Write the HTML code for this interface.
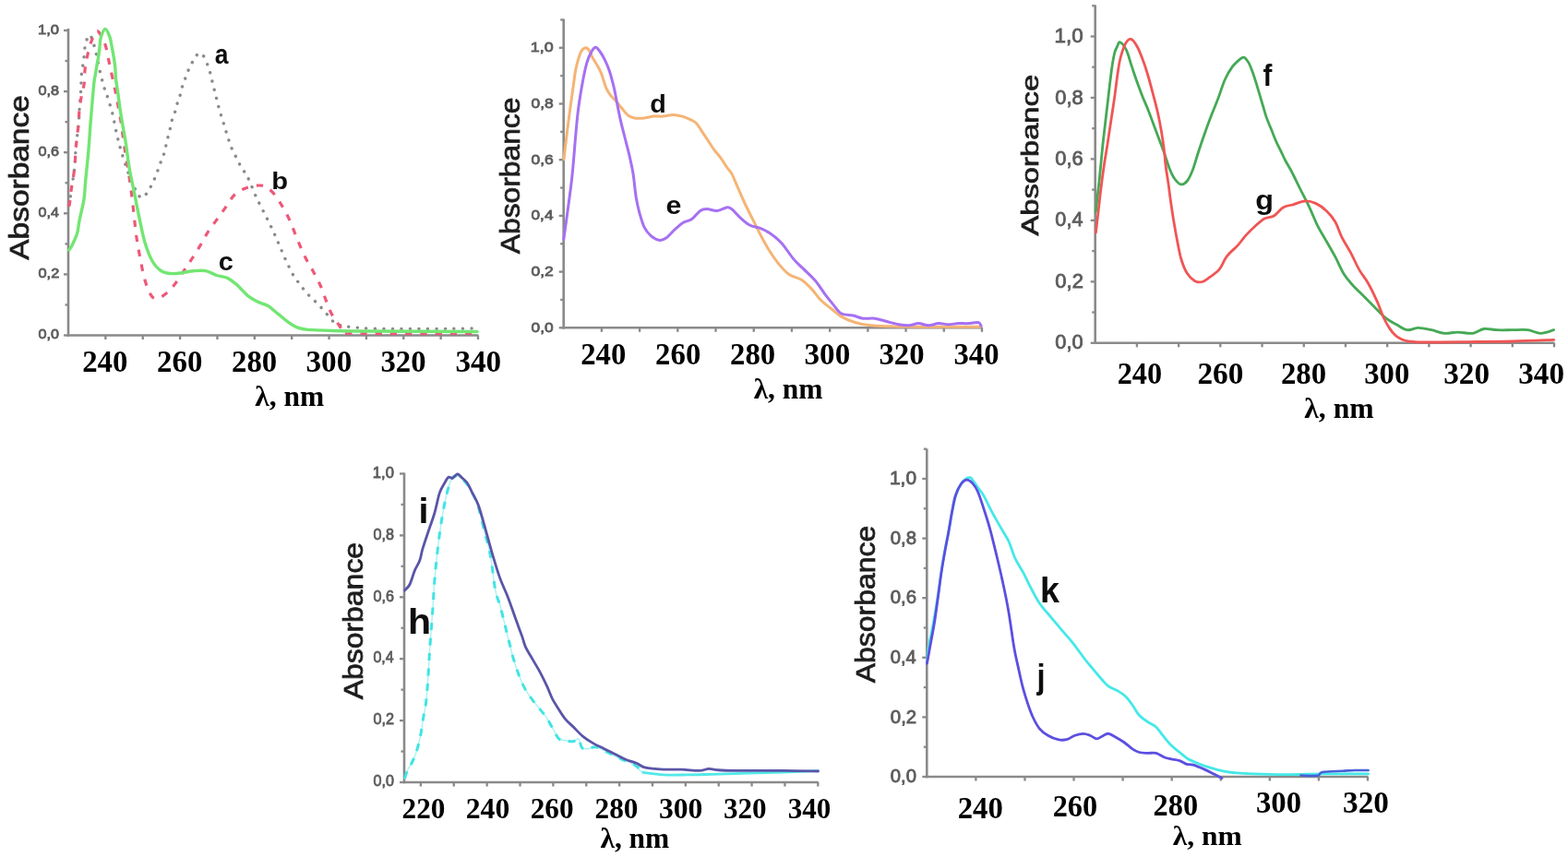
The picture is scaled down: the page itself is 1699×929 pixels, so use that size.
<!DOCTYPE html>
<html><head><meta charset="utf-8"><title>Absorbance spectra</title>
<style>
html,body{margin:0;padding:0;background:#fff;}
body{width:1699px;height:929px;overflow:hidden;}
svg{display:block;}
text{font-kerning:none;}
</style></head><body>
<svg width="1699" height="929" viewBox="0 0 1699 929">
<defs><filter id="soft" x="-2%" y="-2%" width="104%" height="104%"><feGaussianBlur stdDeviation="0.55"/></filter></defs>
<rect width="1699" height="929" fill="#fff"/>
<g filter="url(#soft)">
<g stroke="#8a8a8a" stroke-width="2.60" fill="none" stroke-linecap="butt">
<path d="M74.00 31.00 V364.80"/>
<path d="M72.70 363.50 H518.50"/>
<path d="M69.00 363.50 H74.00" stroke-width="2.34"/>
<path d="M70.50 330.45 H74.00" stroke-width="2.34"/>
<path d="M69.00 297.40 H74.00" stroke-width="2.34"/>
<path d="M70.50 264.35 H74.00" stroke-width="2.34"/>
<path d="M69.00 231.30 H74.00" stroke-width="2.34"/>
<path d="M70.50 198.25 H74.00" stroke-width="2.34"/>
<path d="M69.00 165.20 H74.00" stroke-width="2.34"/>
<path d="M70.50 132.15 H74.00" stroke-width="2.34"/>
<path d="M69.00 99.10 H74.00" stroke-width="2.34"/>
<path d="M70.50 66.05 H74.00" stroke-width="2.34"/>
<path d="M69.00 33.00 H74.00" stroke-width="2.34"/>
<path d="M114.36 363.50 V368.00" stroke-width="2.34"/>
<path d="M154.73 363.50 V368.00" stroke-width="2.34"/>
<path d="M195.09 363.50 V368.00" stroke-width="2.34"/>
<path d="M235.45 363.50 V368.00" stroke-width="2.34"/>
<path d="M275.82 363.50 V368.00" stroke-width="2.34"/>
<path d="M316.18 363.50 V368.00" stroke-width="2.34"/>
<path d="M356.55 363.50 V368.00" stroke-width="2.34"/>
<path d="M396.91 363.50 V368.00" stroke-width="2.34"/>
<path d="M437.27 363.50 V368.00" stroke-width="2.34"/>
<path d="M477.64 363.50 V368.00" stroke-width="2.34"/>
<path d="M518.00 363.50 V368.00" stroke-width="2.34"/>
</g>
<path d="M74.50 222.00 C74.68 221.57 75.13 222.27 75.60 219.40 C76.07 216.53 76.62 209.65 77.30 204.80 C77.98 199.95 79.03 195.13 79.70 190.30 C80.37 185.47 80.90 180.63 81.30 175.80 C81.70 170.97 81.70 166.13 82.10 161.30 C82.50 156.47 83.17 151.63 83.70 146.80 C84.23 141.97 84.90 137.15 85.30 132.30 C85.70 127.45 85.73 123.08 86.10 117.70 C86.47 112.32 87.08 106.83 87.50 100.00 C87.92 93.17 88.12 82.03 88.60 76.70 C89.08 71.37 89.82 72.32 90.40 68.00 C90.98 63.68 91.42 55.13 92.10 50.80 C92.78 46.47 93.50 44.05 94.50 42.00 C95.50 39.95 96.63 36.45 98.10 38.50 C99.57 40.55 101.50 47.37 103.30 54.30 C105.10 61.23 107.18 72.93 108.90 80.10 C110.62 87.27 112.38 93.28 113.60 97.30 C114.82 101.32 114.83 99.92 116.20 104.20 C117.57 108.48 120.08 116.12 121.80 123.00 C123.52 129.88 124.80 138.33 126.50 145.50 C128.20 152.67 129.75 158.58 132.00 166.00 C134.25 173.42 137.50 183.33 140.00 190.00 C142.50 196.67 144.75 201.92 147.00 206.00 C149.25 210.08 151.18 214.37 153.50 214.50 C155.82 214.63 158.98 209.45 160.90 206.80 C162.82 204.15 163.65 201.33 165.00 198.60 C166.35 195.87 167.82 193.30 169.00 190.40 C170.18 187.50 171.07 184.10 172.10 181.20 C173.13 178.30 174.17 175.73 175.20 173.00 C176.23 170.27 177.45 167.70 178.30 164.80 C179.15 161.90 179.63 158.50 180.30 155.60 C180.97 152.70 181.62 150.13 182.30 147.40 C182.98 144.67 183.72 142.10 184.40 139.20 C185.08 136.30 185.55 132.90 186.40 130.00 C187.25 127.10 188.63 124.53 189.50 121.80 C190.37 119.07 190.75 116.32 191.60 113.60 C192.45 110.88 193.75 108.38 194.60 105.50 C195.45 102.62 195.85 99.20 196.70 96.30 C197.55 93.40 198.68 91.00 199.70 88.10 C200.72 85.20 201.60 81.80 202.80 78.90 C204.00 76.00 205.53 73.43 206.90 70.70 C208.27 67.97 209.60 64.58 211.00 62.50 C212.40 60.42 213.92 58.82 215.30 58.20 C216.68 57.58 217.92 57.30 219.30 58.80 C220.68 60.30 222.33 64.35 223.60 67.20 C224.87 70.05 226.00 73.02 226.90 75.90 C227.80 78.78 228.28 81.63 229.00 84.50 C229.72 87.37 230.48 90.23 231.20 93.10 C231.92 95.97 232.58 98.83 233.30 101.70 C234.02 104.57 234.78 107.42 235.50 110.30 C236.22 113.18 236.78 116.12 237.60 119.00 C238.42 121.88 239.50 124.73 240.40 127.60 C241.30 130.47 242.13 133.33 243.00 136.20 C243.87 139.07 244.70 141.93 245.60 144.80 C246.50 147.67 247.40 150.52 248.40 153.40 C249.40 156.28 250.33 159.22 251.60 162.10 C252.87 164.98 254.55 167.83 256.00 170.70 C257.45 173.57 258.70 176.50 260.30 179.30 C261.90 182.10 263.90 184.63 265.60 187.50 C267.30 190.37 268.53 192.23 270.50 196.50 C272.47 200.77 274.82 207.47 277.40 213.10 C279.98 218.73 283.13 224.57 286.00 230.30 C288.87 236.03 291.90 241.75 294.60 247.50 C297.30 253.25 299.68 259.05 302.20 264.80 C304.72 270.55 307.02 276.27 309.70 282.00 C312.38 287.73 315.78 294.90 318.30 299.20 C320.82 303.50 322.65 304.92 324.80 307.80 C326.95 310.68 328.87 313.80 331.20 316.50 C333.53 319.20 336.28 321.50 338.80 324.00 C341.32 326.50 343.80 328.82 346.30 331.50 C348.80 334.18 351.28 337.22 353.80 340.10 C356.32 342.98 358.70 346.65 361.40 348.80 C364.10 350.95 366.77 352.05 370.00 353.00 C373.23 353.95 375.80 354.00 380.80 354.50 C385.80 355.00 391.80 355.67 400.00 356.00 C408.20 356.33 420.00 356.42 430.00 356.50 C440.00 356.58 450.00 356.53 460.00 356.50 C470.00 356.47 480.50 356.38 490.00 356.30 C499.50 356.22 512.50 356.05 517.00 356.00" fill="none" stroke="#8a8a8a" stroke-width="3.40" stroke-linejoin="round" stroke-linecap="round" stroke-dasharray="0.1 9.4" opacity="1.00"/>
<path d="M74.50 224.00 C74.68 223.23 75.13 222.60 75.60 219.40 C76.07 216.20 76.62 209.65 77.30 204.80 C77.98 199.95 79.03 195.13 79.70 190.30 C80.37 185.47 80.90 180.63 81.30 175.80 C81.70 170.97 81.70 166.13 82.10 161.30 C82.50 156.47 83.17 151.63 83.70 146.80 C84.23 141.97 84.90 137.15 85.30 132.30 C85.70 127.45 85.55 122.67 86.10 117.70 C86.65 112.73 87.75 107.03 88.60 102.50 C89.45 97.97 90.62 95.08 91.20 90.50 C91.78 85.92 91.52 80.03 92.10 75.00 C92.68 69.97 93.55 65.33 94.70 60.30 C95.85 55.27 97.22 49.25 99.00 44.80 C100.78 40.35 102.97 33.17 105.40 33.60 C107.83 34.03 111.65 42.67 113.60 47.40 C115.55 52.13 116.07 57.40 117.10 62.00 C118.13 66.60 118.75 70.17 119.80 75.00 C120.85 79.83 122.37 86.17 123.40 91.00 C124.43 95.83 125.12 99.37 126.00 104.00 C126.88 108.63 127.82 113.87 128.70 118.80 C129.58 123.73 130.25 126.63 131.30 133.60 C132.35 140.57 133.58 151.20 135.00 160.60 C136.42 170.00 138.37 180.27 139.80 190.00 C141.23 199.73 142.32 208.33 143.60 219.00 C144.88 229.67 146.20 244.30 147.50 254.00 C148.80 263.70 149.78 268.82 151.40 277.20 C153.02 285.58 154.93 296.87 157.20 304.30 C159.47 311.73 162.08 318.88 165.00 321.80 C167.92 324.72 171.15 323.43 174.70 321.80 C178.25 320.17 182.43 316.37 186.30 312.00 C190.17 307.63 194.35 300.77 197.90 295.60 C201.45 290.43 204.37 286.00 207.60 281.00 C210.83 276.00 214.40 270.43 217.30 265.60 C220.20 260.77 222.10 256.53 225.00 252.00 C227.90 247.47 231.47 242.92 234.70 238.40 C237.93 233.88 241.17 229.42 244.40 224.90 C247.63 220.38 250.22 214.88 254.10 211.30 C257.98 207.72 262.75 205.08 267.70 203.40 C272.65 201.72 279.32 200.48 283.80 201.20 C288.28 201.92 291.00 204.10 294.60 207.70 C298.20 211.30 302.17 217.60 305.40 222.80 C308.63 228.00 311.13 232.62 314.00 238.90 C316.87 245.18 319.73 253.68 322.60 260.50 C325.47 267.32 328.33 274.07 331.20 279.80 C334.07 285.53 337.10 289.87 339.80 294.90 C342.50 299.93 345.07 304.62 347.40 310.00 C349.73 315.38 351.83 322.18 353.80 327.20 C355.77 332.22 357.33 336.47 359.20 340.10 C361.07 343.73 363.20 346.35 365.00 349.00 C366.80 351.65 368.17 354.08 370.00 356.00 C371.83 357.92 372.67 359.58 376.00 360.50 C379.33 361.42 366.50 361.33 390.00 361.50 C413.50 361.67 495.83 361.50 517.00 361.50" fill="none" stroke="#ee5878" stroke-width="3.20" stroke-linejoin="round" stroke-linecap="butt" stroke-dasharray="7.2 9" opacity="1.00"/>
<path d="M74.80 271.00 C75.28 270.27 76.23 269.60 77.70 266.60 C79.17 263.60 82.20 257.65 83.60 253.00 C85.00 248.35 84.87 244.87 86.10 238.70 C87.33 232.53 89.92 222.98 91.00 216.00 C92.08 209.02 91.80 205.38 92.60 196.80 C93.40 188.22 94.87 175.30 95.80 164.50 C96.73 153.70 97.23 144.05 98.20 132.00 C99.17 119.95 100.75 100.70 101.60 92.20 C102.45 83.70 102.73 84.58 103.30 81.00 C103.87 77.42 104.43 74.00 105.00 70.70 C105.57 67.40 106.20 64.52 106.70 61.20 C107.20 57.88 107.57 54.25 108.00 50.80 C108.43 47.35 108.30 43.72 109.30 40.50 C110.30 37.28 112.42 31.65 114.00 31.50 C115.58 31.35 117.65 36.67 118.80 39.60 C119.95 42.53 120.18 45.50 120.90 49.10 C121.62 52.70 122.45 57.18 123.10 61.20 C123.75 65.22 124.40 69.15 124.80 73.20 C125.20 77.25 125.03 81.13 125.50 85.50 C125.97 89.87 126.82 93.85 127.60 99.40 C128.38 104.95 129.23 112.33 130.20 118.80 C131.17 125.27 132.33 131.83 133.40 138.20 C134.47 144.57 135.45 149.50 136.60 157.00 C137.75 164.50 138.80 174.47 140.30 183.20 C141.80 191.93 143.75 200.20 145.60 209.40 C147.45 218.60 149.47 229.37 151.40 238.40 C153.33 247.43 154.93 256.17 157.20 263.60 C159.47 271.03 162.08 277.98 165.00 283.00 C167.92 288.02 171.15 291.43 174.70 293.70 C178.25 295.97 182.43 296.28 186.30 296.60 C190.17 296.92 194.03 296.08 197.90 295.60 C201.77 295.12 205.32 294.02 209.50 293.70 C213.68 293.38 218.80 292.90 223.00 293.70 C227.20 294.50 230.80 297.22 234.70 298.50 C238.60 299.78 242.85 299.78 246.40 301.40 C249.95 303.02 253.70 306.40 256.00 308.20 C258.30 310.00 258.07 310.10 260.20 312.20 C262.33 314.30 265.58 318.30 268.80 320.80 C272.02 323.30 275.92 325.42 279.50 327.20 C283.08 328.98 286.70 329.35 290.30 331.50 C293.90 333.65 297.52 337.22 301.10 340.10 C304.68 342.98 308.22 346.28 311.80 348.80 C315.38 351.32 319.00 353.77 322.60 355.20 C326.20 356.63 327.17 356.85 333.40 357.40 C339.63 357.95 348.90 358.23 360.00 358.50 C371.10 358.77 373.83 358.83 400.00 359.00 C426.17 359.17 497.50 359.42 517.00 359.50" fill="none" stroke="#72e672" stroke-width="3.40" stroke-linejoin="round" stroke-linecap="round" opacity="1.00"/>
<g stroke="#8a8a8a" stroke-width="2.60" fill="none" stroke-linecap="butt">
<path d="M610.70 20.50 V356.60"/>
<path d="M609.40 355.30 H1064.50"/>
<path d="M605.70 355.30 H610.70" stroke-width="2.34"/>
<path d="M607.20 324.95 H610.70" stroke-width="2.34"/>
<path d="M605.70 294.60 H610.70" stroke-width="2.34"/>
<path d="M607.20 264.25 H610.70" stroke-width="2.34"/>
<path d="M605.70 233.90 H610.70" stroke-width="2.34"/>
<path d="M607.20 203.55 H610.70" stroke-width="2.34"/>
<path d="M605.70 173.20 H610.70" stroke-width="2.34"/>
<path d="M607.20 142.85 H610.70" stroke-width="2.34"/>
<path d="M605.70 112.50 H610.70" stroke-width="2.34"/>
<path d="M607.20 82.15 H610.70" stroke-width="2.34"/>
<path d="M605.70 51.80 H610.70" stroke-width="2.34"/>
<path d="M607.20 21.45 H610.70" stroke-width="2.34"/>
<path d="M651.91 355.30 V359.80" stroke-width="2.34"/>
<path d="M693.12 355.30 V359.80" stroke-width="2.34"/>
<path d="M734.33 355.30 V359.80" stroke-width="2.34"/>
<path d="M775.54 355.30 V359.80" stroke-width="2.34"/>
<path d="M816.75 355.30 V359.80" stroke-width="2.34"/>
<path d="M857.95 355.30 V359.80" stroke-width="2.34"/>
<path d="M899.16 355.30 V359.80" stroke-width="2.34"/>
<path d="M940.37 355.30 V359.80" stroke-width="2.34"/>
<path d="M981.58 355.30 V359.80" stroke-width="2.34"/>
<path d="M1022.79 355.30 V359.80" stroke-width="2.34"/>
<path d="M1064.00 355.30 V359.80" stroke-width="2.34"/>
</g>
<path d="M611.00 172.60 C611.72 166.58 613.57 149.98 615.30 136.50 C617.03 123.02 619.95 102.03 621.40 91.70 C622.85 81.37 622.72 80.25 624.00 74.50 C625.28 68.75 627.53 60.93 629.10 57.20 C630.67 53.47 631.97 52.67 633.40 52.10 C634.83 51.53 636.27 52.08 637.70 53.80 C639.13 55.52 640.42 59.53 642.00 62.40 C643.58 65.27 645.62 68.13 647.20 71.00 C648.78 73.87 649.92 75.58 651.50 79.60 C653.08 83.62 654.98 91.08 656.70 95.10 C658.42 99.12 660.08 101.40 661.80 103.70 C663.52 106.00 664.98 106.60 667.00 108.90 C669.02 111.20 671.60 114.77 673.90 117.50 C676.20 120.23 678.50 123.57 680.80 125.30 C683.10 127.03 684.83 127.47 687.70 127.90 C690.57 128.33 694.55 128.20 698.00 127.90 C701.45 127.60 704.95 126.40 708.40 126.10 C711.85 125.80 715.27 126.38 718.70 126.10 C722.13 125.82 725.55 124.40 729.00 124.40 C732.45 124.40 735.95 125.10 739.40 126.10 C742.85 127.10 747.12 129.10 749.70 130.40 C752.28 131.70 753.18 132.03 754.90 133.90 C756.62 135.77 758.00 138.58 760.00 141.60 C762.00 144.62 764.60 148.55 766.90 152.00 C769.20 155.45 771.50 159.15 773.80 162.30 C776.10 165.45 778.40 167.73 780.70 170.90 C783.00 174.07 785.58 178.43 787.60 181.30 C789.62 184.17 790.83 184.47 792.80 188.10 C794.77 191.73 796.87 197.37 799.40 203.10 C801.93 208.83 805.13 216.40 808.00 222.50 C810.87 228.60 813.73 233.97 816.60 239.70 C819.47 245.43 822.33 251.52 825.20 256.90 C828.07 262.28 830.57 266.97 833.80 272.00 C837.03 277.03 841.00 282.80 844.60 287.10 C848.20 291.40 851.45 295.12 855.40 297.80 C859.35 300.48 864.35 300.68 868.30 303.20 C872.25 305.72 875.52 309.13 879.10 312.90 C882.68 316.67 886.22 322.20 889.80 325.80 C893.38 329.40 897.00 331.62 900.60 334.50 C904.20 337.38 907.08 340.60 911.40 343.10 C915.72 345.60 921.12 347.88 926.50 349.50 C931.88 351.12 937.25 352.08 943.70 352.80 C950.15 353.52 956.58 353.57 965.20 353.80 C973.82 354.03 979.27 354.13 995.40 354.20 C1011.53 354.27 1050.90 354.20 1062.00 354.20" fill="none" stroke="#f5b475" stroke-width="3.00" stroke-linejoin="round" stroke-linecap="round" opacity="1.00"/>
<path d="M610.80 259.50 C611.35 255.53 612.93 244.23 614.10 235.70 C615.27 227.17 616.73 216.75 617.80 208.30 C618.87 199.85 619.18 198.70 620.50 185.00 C621.82 171.30 623.98 141.65 625.70 126.10 C627.42 110.55 629.08 101.45 630.80 91.70 C632.52 81.95 634.27 73.63 636.00 67.60 C637.73 61.57 639.62 58.23 641.20 55.50 C642.78 52.77 644.07 51.20 645.50 51.20 C646.93 51.20 648.22 53.35 649.80 55.50 C651.38 57.65 653.28 60.65 655.00 64.10 C656.72 67.55 658.38 71.03 660.10 76.20 C661.82 81.37 663.87 89.07 665.30 95.10 C666.73 101.13 667.55 106.65 668.70 112.40 C669.85 118.15 671.05 124.43 672.20 129.60 C673.35 134.77 674.45 138.82 675.60 143.40 C676.75 147.98 677.95 152.52 679.10 157.10 C680.25 161.68 681.35 165.73 682.50 170.90 C683.65 176.07 684.88 180.95 686.00 188.10 C687.12 195.25 688.07 206.77 689.20 213.80 C690.33 220.83 691.28 224.82 692.80 230.30 C694.32 235.78 696.17 242.43 698.30 246.70 C700.43 250.97 702.85 253.62 705.60 255.90 C708.35 258.18 712.05 260.10 714.80 260.40 C717.55 260.70 719.35 259.67 722.10 257.70 C724.85 255.73 728.25 251.35 731.30 248.60 C734.35 245.85 737.35 243.03 740.40 241.20 C743.45 239.37 746.55 239.73 749.60 237.60 C752.65 235.47 755.97 230.23 758.70 228.40 C761.43 226.57 762.95 226.60 766.00 226.60 C769.05 226.60 773.33 228.70 777.00 228.40 C780.67 228.10 785.33 225.07 788.00 224.80 C790.67 224.53 790.75 225.03 793.00 226.80 C795.25 228.57 798.28 232.53 801.50 235.40 C804.72 238.27 808.70 242.03 812.30 244.00 C815.90 245.97 819.52 245.77 823.10 247.20 C826.68 248.63 829.85 249.90 833.80 252.60 C837.75 255.30 842.48 258.73 846.80 263.40 C851.12 268.07 855.75 275.93 859.70 280.60 C863.65 285.27 866.55 287.45 870.50 291.40 C874.45 295.35 879.45 299.63 883.40 304.30 C887.35 308.97 890.97 315.10 894.20 319.40 C897.43 323.70 899.93 326.70 902.80 330.10 C905.67 333.50 907.82 337.82 911.40 339.80 C914.98 341.78 920.35 341.10 924.30 342.00 C928.25 342.90 931.15 344.67 935.10 345.20 C939.05 345.73 943.70 344.65 948.00 345.20 C952.30 345.75 956.60 347.42 960.90 348.50 C965.20 349.58 969.85 350.98 973.80 351.70 C977.75 352.42 981.00 352.98 984.60 352.80 C988.20 352.62 991.82 350.60 995.40 350.60 C998.98 350.60 1002.52 352.80 1006.10 352.80 C1009.68 352.80 1013.30 350.78 1016.90 350.60 C1020.50 350.42 1024.10 351.70 1027.70 351.70 C1031.30 351.70 1034.92 350.78 1038.50 350.60 C1042.08 350.42 1045.62 350.78 1049.20 350.60 C1052.78 350.42 1057.70 349.10 1060.00 349.50 C1062.30 349.90 1062.50 352.42 1063.00 353.00" fill="none" stroke="#a66ff2" stroke-width="3.00" stroke-linejoin="round" stroke-linecap="round" opacity="1.00"/>
<g stroke="#8a8a8a" stroke-width="2.60" fill="none" stroke-linecap="butt">
<path d="M1186.70 5.50 V373.10"/>
<path d="M1185.40 371.80 H1684.50"/>
<path d="M1181.70 371.80 H1186.70" stroke-width="2.34"/>
<path d="M1183.20 338.57 H1186.70" stroke-width="2.34"/>
<path d="M1181.70 305.34 H1186.70" stroke-width="2.34"/>
<path d="M1183.20 272.11 H1186.70" stroke-width="2.34"/>
<path d="M1181.70 238.88 H1186.70" stroke-width="2.34"/>
<path d="M1183.20 205.65 H1186.70" stroke-width="2.34"/>
<path d="M1181.70 172.42 H1186.70" stroke-width="2.34"/>
<path d="M1183.20 139.19 H1186.70" stroke-width="2.34"/>
<path d="M1181.70 105.96 H1186.70" stroke-width="2.34"/>
<path d="M1183.20 72.73 H1186.70" stroke-width="2.34"/>
<path d="M1181.70 39.50 H1186.70" stroke-width="2.34"/>
<path d="M1183.20 6.27 H1186.70" stroke-width="2.34"/>
<path d="M1231.91 371.80 V376.30" stroke-width="2.34"/>
<path d="M1277.12 371.80 V376.30" stroke-width="2.34"/>
<path d="M1322.33 371.80 V376.30" stroke-width="2.34"/>
<path d="M1367.54 371.80 V376.30" stroke-width="2.34"/>
<path d="M1412.75 371.80 V376.30" stroke-width="2.34"/>
<path d="M1457.95 371.80 V376.30" stroke-width="2.34"/>
<path d="M1503.16 371.80 V376.30" stroke-width="2.34"/>
<path d="M1548.37 371.80 V376.30" stroke-width="2.34"/>
<path d="M1593.58 371.80 V376.30" stroke-width="2.34"/>
<path d="M1638.79 371.80 V376.30" stroke-width="2.34"/>
<path d="M1684.00 371.80 V376.30" stroke-width="2.34"/>
</g>
<path d="M1187.30 230.00 C1187.67 226.67 1188.80 216.33 1189.50 210.00 C1190.20 203.67 1190.62 200.67 1191.50 192.00 C1192.38 183.33 1193.62 169.17 1194.80 158.00 C1195.98 146.83 1197.37 135.67 1198.60 125.00 C1199.83 114.33 1201.13 102.83 1202.20 94.00 C1203.27 85.17 1204.07 78.17 1205.00 72.00 C1205.93 65.83 1206.88 60.58 1207.80 57.00 C1208.72 53.42 1209.52 52.38 1210.50 50.50 C1211.48 48.62 1212.03 45.05 1213.70 45.70 C1215.37 46.35 1218.40 50.03 1220.50 54.40 C1222.60 58.77 1224.35 66.08 1226.30 71.90 C1228.25 77.72 1230.25 83.82 1232.20 89.30 C1234.15 94.78 1236.07 99.95 1238.00 104.80 C1239.93 109.65 1241.87 113.55 1243.80 118.40 C1245.73 123.25 1247.67 128.73 1249.60 133.90 C1251.53 139.07 1253.47 144.23 1255.40 149.40 C1257.33 154.57 1259.25 159.40 1261.20 164.90 C1263.15 170.40 1265.15 177.55 1267.10 182.40 C1269.05 187.25 1270.80 191.08 1272.90 194.00 C1275.00 196.92 1277.43 199.57 1279.70 199.90 C1281.97 200.23 1284.40 198.60 1286.50 196.00 C1288.60 193.40 1290.35 189.35 1292.30 184.30 C1294.25 179.25 1296.23 171.72 1298.20 165.70 C1300.17 159.68 1301.83 154.67 1304.10 148.20 C1306.37 141.73 1309.22 133.68 1311.80 126.90 C1314.38 120.12 1317.02 114.28 1319.60 107.50 C1322.18 100.72 1324.72 92.02 1327.30 86.20 C1329.88 80.38 1332.52 76.15 1335.10 72.60 C1337.68 69.05 1340.68 66.65 1342.80 64.90 C1344.92 63.15 1346.12 61.60 1347.80 62.10 C1349.48 62.60 1351.40 65.42 1352.90 67.90 C1354.40 70.38 1355.50 73.55 1356.80 77.00 C1358.10 80.45 1359.40 84.50 1360.70 88.60 C1362.00 92.70 1363.32 97.28 1364.60 101.60 C1365.88 105.92 1367.12 110.20 1368.40 114.50 C1369.68 118.80 1370.78 123.10 1372.30 127.40 C1373.82 131.70 1375.77 135.98 1377.50 140.30 C1379.23 144.62 1380.98 149.42 1382.70 153.30 C1384.42 157.18 1386.08 160.07 1387.80 163.60 C1389.52 167.13 1391.05 170.77 1393.00 174.50 C1394.95 178.23 1396.85 180.92 1399.50 186.00 C1402.15 191.08 1405.75 198.68 1408.90 205.00 C1412.05 211.32 1415.23 217.20 1418.40 223.90 C1421.57 230.60 1424.73 238.88 1427.90 245.20 C1431.07 251.52 1434.25 256.27 1437.40 261.80 C1440.55 267.33 1443.65 272.48 1446.80 278.40 C1449.95 284.32 1453.13 292.17 1456.30 297.30 C1459.47 302.43 1462.25 305.25 1465.80 309.20 C1469.35 313.15 1473.65 317.05 1477.60 321.00 C1481.55 324.95 1485.55 328.95 1489.50 332.90 C1493.45 336.85 1497.37 341.55 1501.30 344.70 C1505.23 347.85 1509.15 349.63 1513.10 351.80 C1517.05 353.97 1521.05 357.10 1525.00 357.70 C1528.95 358.30 1532.47 355.40 1536.80 355.40 C1541.13 355.40 1546.27 356.72 1551.00 357.70 C1555.73 358.68 1560.47 360.90 1565.20 361.30 C1569.93 361.70 1574.27 360.10 1579.40 360.10 C1584.53 360.10 1591.27 361.90 1596.00 361.30 C1600.73 360.70 1603.45 357.10 1607.80 356.50 C1612.15 355.90 1616.97 357.50 1622.10 357.70 C1627.23 357.90 1633.08 357.70 1638.60 357.70 C1644.12 357.70 1650.07 357.10 1655.20 357.70 C1660.33 358.30 1664.67 361.30 1669.40 361.30 C1674.13 361.30 1681.23 358.30 1683.60 357.70" fill="none" stroke="#45a955" stroke-width="2.80" stroke-linejoin="round" stroke-linecap="round" opacity="1.00"/>
<path d="M1187.40 252.00 C1187.83 248.33 1189.13 237.50 1190.00 230.00 C1190.87 222.50 1191.57 215.33 1192.60 207.00 C1193.63 198.67 1195.00 188.23 1196.20 180.00 C1197.40 171.77 1198.55 165.65 1199.80 157.60 C1201.05 149.55 1202.40 140.32 1203.70 131.70 C1205.00 123.08 1206.38 114.52 1207.60 105.90 C1208.82 97.28 1209.93 87.15 1211.00 80.00 C1212.07 72.85 1212.57 68.48 1214.00 63.00 C1215.43 57.52 1217.68 50.53 1219.60 47.10 C1221.52 43.67 1223.40 41.83 1225.50 42.40 C1227.60 42.97 1230.12 46.88 1232.20 50.50 C1234.28 54.12 1236.07 58.93 1238.00 64.10 C1239.93 69.27 1241.87 75.03 1243.80 81.50 C1245.73 87.97 1247.82 96.10 1249.60 102.90 C1251.38 109.70 1253.05 115.83 1254.50 122.30 C1255.95 128.77 1257.18 135.23 1258.30 141.70 C1259.42 148.17 1260.38 154.63 1261.20 161.10 C1262.02 167.57 1262.38 174.03 1263.20 180.50 C1264.02 186.97 1265.27 193.98 1266.10 199.90 C1266.93 205.82 1267.22 209.13 1268.20 216.00 C1269.18 222.87 1270.68 233.17 1272.00 241.10 C1273.32 249.03 1274.73 256.78 1276.10 263.60 C1277.47 270.42 1278.50 276.55 1280.20 282.00 C1281.90 287.45 1283.92 292.55 1286.30 296.30 C1288.68 300.05 1291.77 302.97 1294.50 304.50 C1297.23 306.03 1299.97 306.18 1302.70 305.50 C1305.43 304.82 1307.83 302.62 1310.90 300.40 C1313.97 298.18 1318.03 295.95 1321.10 292.20 C1324.17 288.45 1325.90 282.33 1329.30 277.90 C1332.70 273.47 1338.10 269.35 1341.50 265.60 C1344.90 261.85 1346.63 258.80 1349.70 255.40 C1352.77 252.00 1356.50 248.27 1359.90 245.20 C1363.30 242.13 1366.68 238.87 1370.10 237.00 C1373.52 235.13 1376.98 236.03 1380.40 234.00 C1383.82 231.97 1387.03 226.87 1390.60 224.80 C1394.17 222.73 1397.95 222.73 1401.80 221.60 C1405.65 220.47 1409.75 218.20 1413.70 218.00 C1417.65 217.80 1421.55 218.62 1425.50 220.40 C1429.45 222.18 1433.85 225.35 1437.40 228.70 C1440.95 232.05 1444.05 235.77 1446.80 240.50 C1449.55 245.23 1451.13 251.57 1453.90 257.10 C1456.67 262.63 1460.23 267.78 1463.40 273.70 C1466.57 279.62 1469.75 287.08 1472.90 292.60 C1476.05 298.12 1479.15 301.27 1482.30 306.80 C1485.45 312.33 1488.97 319.52 1491.80 325.80 C1494.63 332.08 1496.97 339.45 1499.30 344.50 C1501.63 349.55 1503.65 352.88 1505.80 356.10 C1507.95 359.32 1510.07 361.87 1512.20 363.80 C1514.33 365.73 1516.38 366.70 1518.60 367.70 C1520.82 368.70 1522.47 369.28 1525.50 369.80 C1528.53 370.32 1531.05 370.60 1536.80 370.80 C1542.55 371.00 1549.47 371.05 1560.00 371.00 C1570.53 370.95 1586.67 370.67 1600.00 370.50 C1613.33 370.33 1626.07 370.35 1640.00 370.00 C1653.93 369.65 1676.33 368.67 1683.60 368.40" fill="none" stroke="#f05555" stroke-width="2.80" stroke-linejoin="round" stroke-linecap="round" opacity="1.00"/>
<g stroke="#8a8a8a" stroke-width="2.60" fill="none" stroke-linecap="butt">
<path d="M438.00 512.50 V849.30"/>
<path d="M436.70 848.00 H886.80"/>
<path d="M433.00 848.00 H438.00" stroke-width="2.34"/>
<path d="M434.50 814.55 H438.00" stroke-width="2.34"/>
<path d="M433.00 781.10 H438.00" stroke-width="2.34"/>
<path d="M434.50 747.65 H438.00" stroke-width="2.34"/>
<path d="M433.00 714.20 H438.00" stroke-width="2.34"/>
<path d="M434.50 680.75 H438.00" stroke-width="2.34"/>
<path d="M433.00 647.30 H438.00" stroke-width="2.34"/>
<path d="M434.50 613.85 H438.00" stroke-width="2.34"/>
<path d="M433.00 580.40 H438.00" stroke-width="2.34"/>
<path d="M434.50 546.95 H438.00" stroke-width="2.34"/>
<path d="M433.00 513.50 H438.00" stroke-width="2.34"/>
<path d="M455.93 848.00 V852.50" stroke-width="2.34"/>
<path d="M491.80 848.00 V852.50" stroke-width="2.34"/>
<path d="M527.66 848.00 V852.50" stroke-width="2.34"/>
<path d="M563.52 848.00 V852.50" stroke-width="2.34"/>
<path d="M599.39 848.00 V852.50" stroke-width="2.34"/>
<path d="M635.25 848.00 V852.50" stroke-width="2.34"/>
<path d="M671.12 848.00 V852.50" stroke-width="2.34"/>
<path d="M706.98 848.00 V852.50" stroke-width="2.34"/>
<path d="M742.84 848.00 V852.50" stroke-width="2.34"/>
<path d="M778.71 848.00 V852.50" stroke-width="2.34"/>
<path d="M814.57 848.00 V852.50" stroke-width="2.34"/>
<path d="M850.44 848.00 V852.50" stroke-width="2.34"/>
<path d="M886.30 848.00 V852.50" stroke-width="2.34"/>
</g>
<path d="M438.50 844.00 C439.00 842.50 440.30 837.70 441.50 835.00 C442.70 832.30 444.20 830.78 445.70 827.80 C447.20 824.82 448.88 821.95 450.50 817.10 C452.12 812.25 454.02 805.32 455.40 798.70 C456.78 792.08 457.83 783.05 458.80 777.40 C459.77 771.75 460.42 771.03 461.20 764.80 C461.98 758.57 462.73 750.47 463.50 740.00 C464.27 729.53 464.92 715.08 465.80 702.00 C466.68 688.92 467.95 673.63 468.80 661.50 C469.65 649.37 470.02 639.97 470.90 629.20 C471.78 618.43 472.85 607.67 474.10 596.90 C475.35 586.13 476.78 574.65 478.40 564.60 C480.02 554.55 482.00 544.13 483.80 536.60 C485.60 529.07 487.40 522.82 489.20 519.40 C491.00 515.98 492.27 515.75 494.60 516.10 C496.93 516.45 500.33 518.45 503.20 521.50 C506.07 524.55 509.28 529.73 511.80 534.40 C514.32 539.07 516.15 542.68 518.30 549.50 C520.45 556.32 522.55 566.68 524.70 575.30 C526.85 583.92 529.18 590.42 531.20 601.20 C533.22 611.98 535.07 630.95 536.80 640.00 C538.53 649.05 539.98 649.68 541.60 655.50 C543.22 661.32 544.88 668.43 546.50 674.90 C548.12 681.37 549.68 687.85 551.30 694.30 C552.92 700.75 554.42 707.47 556.20 713.60 C557.98 719.73 559.90 725.60 562.00 731.10 C564.10 736.60 566.38 742.08 568.80 746.60 C571.22 751.12 573.92 754.65 576.50 758.20 C579.08 761.75 581.72 764.67 584.30 767.90 C586.88 771.13 589.42 773.72 592.00 777.60 C594.58 781.48 597.53 787.32 599.80 791.20 C602.07 795.08 603.35 798.97 605.60 800.90 C607.85 802.83 610.72 802.32 613.30 802.80 C615.88 803.28 618.83 804.12 621.10 803.80 C623.37 803.48 625.33 799.78 626.90 800.90 C628.47 802.02 628.78 808.70 630.50 810.50 C632.22 812.30 634.78 811.82 637.20 811.70 C639.62 811.58 642.08 809.48 645.00 809.80 C647.92 810.12 651.80 812.32 654.70 813.60 C657.60 814.88 659.18 815.88 662.40 817.50 C665.62 819.12 669.80 821.37 674.00 823.30 C678.20 825.23 683.80 826.77 687.60 829.10 C691.40 831.43 691.60 835.50 696.80 837.30 C702.00 839.10 710.82 839.47 718.80 839.90 C726.78 840.33 736.07 840.00 744.70 839.90 C753.33 839.80 759.80 839.58 770.60 839.30 C781.40 839.02 796.55 838.55 809.50 838.20 C822.45 837.85 835.47 837.63 848.30 837.20 C861.13 836.77 880.13 835.87 886.50 835.60" fill="none" stroke="#a8f2f2" stroke-width="1.40" stroke-linejoin="round" stroke-linecap="round" opacity="1.00"/>
<path d="M438.50 844.00 C439.00 842.50 440.30 837.70 441.50 835.00 C442.70 832.30 444.20 830.78 445.70 827.80 C447.20 824.82 448.88 821.95 450.50 817.10 C452.12 812.25 454.02 805.32 455.40 798.70 C456.78 792.08 457.83 783.05 458.80 777.40 C459.77 771.75 460.42 771.03 461.20 764.80 C461.98 758.57 462.73 750.47 463.50 740.00 C464.27 729.53 464.92 715.08 465.80 702.00 C466.68 688.92 467.95 673.63 468.80 661.50 C469.65 649.37 470.02 639.97 470.90 629.20 C471.78 618.43 472.85 607.67 474.10 596.90 C475.35 586.13 476.78 574.65 478.40 564.60 C480.02 554.55 482.00 544.13 483.80 536.60 C485.60 529.07 487.40 522.82 489.20 519.40 C491.00 515.98 492.27 515.75 494.60 516.10 C496.93 516.45 500.33 518.45 503.20 521.50 C506.07 524.55 509.28 529.73 511.80 534.40 C514.32 539.07 516.15 542.68 518.30 549.50 C520.45 556.32 522.55 566.68 524.70 575.30 C526.85 583.92 529.18 590.42 531.20 601.20 C533.22 611.98 535.07 630.95 536.80 640.00 C538.53 649.05 539.98 649.68 541.60 655.50 C543.22 661.32 544.88 668.43 546.50 674.90 C548.12 681.37 549.68 687.85 551.30 694.30 C552.92 700.75 554.42 707.47 556.20 713.60 C557.98 719.73 559.90 725.60 562.00 731.10 C564.10 736.60 566.38 742.08 568.80 746.60 C571.22 751.12 573.92 754.65 576.50 758.20 C579.08 761.75 581.72 764.67 584.30 767.90 C586.88 771.13 589.42 773.72 592.00 777.60 C594.58 781.48 597.53 787.32 599.80 791.20 C602.07 795.08 603.35 798.97 605.60 800.90 C607.85 802.83 610.72 802.32 613.30 802.80 C615.88 803.28 618.83 804.12 621.10 803.80 C623.37 803.48 625.33 799.78 626.90 800.90 C628.47 802.02 628.78 808.70 630.50 810.50 C632.22 812.30 634.78 811.82 637.20 811.70 C639.62 811.58 642.08 809.48 645.00 809.80 C647.92 810.12 651.80 812.32 654.70 813.60 C657.60 814.88 659.18 815.88 662.40 817.50 C665.62 819.12 669.80 821.37 674.00 823.30 C678.20 825.23 683.80 826.77 687.60 829.10 C691.40 831.43 695.27 835.93 696.80 837.30" fill="none" stroke="#40e4e4" stroke-width="3.00" stroke-linejoin="round" stroke-linecap="butt" stroke-dasharray="8 8.5" opacity="1.00"/>
<path d="M696.80 837.30 C700.47 837.73 710.82 839.47 718.80 839.90 C726.78 840.33 736.07 840.00 744.70 839.90 C753.33 839.80 759.80 839.58 770.60 839.30 C781.40 839.02 796.55 838.55 809.50 838.20 C822.45 837.85 835.47 837.63 848.30 837.20 C861.13 836.77 880.13 835.87 886.50 835.60" fill="none" stroke="#52e8e8" stroke-width="2.80" stroke-linejoin="round" stroke-linecap="round" opacity="1.00"/>
<path d="M438.60 639.90 C439.50 638.83 442.20 637.08 444.00 633.50 C445.80 629.92 447.60 622.72 449.40 618.40 C451.20 614.08 453.37 611.55 454.80 607.60 C456.23 603.65 456.40 600.08 458.00 594.70 C459.60 589.32 462.25 581.75 464.40 575.30 C466.55 568.85 468.92 562.82 470.90 556.00 C472.88 549.18 474.50 539.78 476.30 534.40 C478.10 529.02 480.08 526.57 481.70 523.70 C483.32 520.83 484.57 518.10 486.00 517.20 C487.43 516.30 488.68 518.83 490.30 518.30 C491.92 517.77 493.92 514.00 495.70 514.00 C497.48 514.00 499.22 516.68 501.00 518.30 C502.78 519.92 504.60 521.02 506.40 523.70 C508.20 526.38 509.82 530.45 511.80 534.40 C513.78 538.35 516.15 541.65 518.30 547.40 C520.45 553.15 522.25 560.33 524.70 568.90 C527.15 577.47 530.18 589.22 533.00 598.80 C535.82 608.38 538.73 618.37 541.60 626.40 C544.47 634.43 547.33 639.55 550.20 647.00 C553.07 654.45 556.22 663.95 558.80 671.10 C561.38 678.25 563.92 684.87 565.70 689.90 C567.48 694.93 567.58 697.13 569.50 701.30 C571.42 705.47 574.62 710.38 577.20 714.90 C579.78 719.42 582.42 723.57 585.00 728.40 C587.58 733.23 590.45 739.05 592.70 743.90 C594.95 748.75 596.57 753.62 598.50 757.50 C600.43 761.38 602.05 763.65 604.30 767.20 C606.55 770.75 609.10 775.25 612.00 778.80 C614.90 782.35 618.47 785.28 621.70 788.50 C624.93 791.72 627.85 795.20 631.40 798.10 C634.95 801.00 639.12 803.63 643.00 805.90 C646.88 808.17 650.82 809.77 654.70 811.70 C658.58 813.63 662.43 815.57 666.30 817.50 C670.17 819.43 674.03 821.68 677.90 823.30 C681.77 824.92 685.92 825.72 689.50 827.20 C693.08 828.68 694.52 831.05 699.40 832.20 C704.28 833.35 712.32 833.78 718.80 834.10 C725.28 834.42 731.82 833.88 738.30 834.10 C744.78 834.32 752.75 835.52 757.70 835.40 C762.65 835.28 764.77 833.52 768.00 833.40 C771.23 833.28 772.35 834.37 777.10 834.70 C781.85 835.03 784.63 835.28 796.50 835.40 C808.37 835.52 833.30 835.30 848.30 835.40 C863.30 835.50 880.13 835.90 886.50 836.00" fill="none" stroke="#5a54a8" stroke-width="2.80" stroke-linejoin="round" stroke-linecap="round" opacity="1.00"/>
<g stroke="#8a8a8a" stroke-width="2.60" fill="none" stroke-linecap="butt">
<path d="M1004.30 486.50 V843.30"/>
<path d="M1003.00 842.00 H1482.50"/>
<path d="M999.30 842.00 H1004.30" stroke-width="2.34"/>
<path d="M1000.80 809.70 H1004.30" stroke-width="2.34"/>
<path d="M999.30 777.40 H1004.30" stroke-width="2.34"/>
<path d="M1000.80 745.10 H1004.30" stroke-width="2.34"/>
<path d="M999.30 712.80 H1004.30" stroke-width="2.34"/>
<path d="M1000.80 680.50 H1004.30" stroke-width="2.34"/>
<path d="M999.30 648.20 H1004.30" stroke-width="2.34"/>
<path d="M1000.80 615.90 H1004.30" stroke-width="2.34"/>
<path d="M999.30 583.60 H1004.30" stroke-width="2.34"/>
<path d="M1000.80 551.30 H1004.30" stroke-width="2.34"/>
<path d="M999.30 519.00 H1004.30" stroke-width="2.34"/>
<path d="M1000.80 486.70 H1004.30" stroke-width="2.34"/>
<path d="M1057.38 842.00 V846.50" stroke-width="2.34"/>
<path d="M1110.46 842.00 V846.50" stroke-width="2.34"/>
<path d="M1163.53 842.00 V846.50" stroke-width="2.34"/>
<path d="M1216.61 842.00 V846.50" stroke-width="2.34"/>
<path d="M1269.69 842.00 V846.50" stroke-width="2.34"/>
<path d="M1322.77 842.00 V846.50" stroke-width="2.34"/>
<path d="M1375.84 842.00 V846.50" stroke-width="2.34"/>
<path d="M1428.92 842.00 V846.50" stroke-width="2.34"/>
<path d="M1482.00 842.00 V846.50" stroke-width="2.34"/>
</g>
<path d="M1004.50 716.00 C1004.83 713.33 1005.67 705.17 1006.50 700.00 C1007.33 694.83 1008.48 690.33 1009.50 685.00 C1010.52 679.67 1011.45 674.67 1012.60 668.00 C1013.75 661.33 1015.10 653.50 1016.40 645.00 C1017.70 636.50 1019.10 625.33 1020.40 617.00 C1021.70 608.67 1022.93 602.00 1024.20 595.00 C1025.47 588.00 1026.70 582.00 1028.00 575.00 C1029.30 568.00 1030.67 559.50 1032.00 553.00 C1033.33 546.50 1034.33 540.92 1036.00 536.00 C1037.67 531.08 1040.13 526.40 1042.00 523.50 C1043.87 520.60 1045.58 519.55 1047.20 518.60 C1048.82 517.65 1050.48 517.35 1051.70 517.80 C1052.92 518.25 1053.12 519.43 1054.50 521.30 C1055.88 523.17 1058.12 526.37 1060.00 529.00 C1061.88 531.63 1063.32 532.73 1065.80 537.10 C1068.28 541.47 1071.88 549.53 1074.90 555.20 C1077.92 560.87 1080.88 565.82 1083.90 571.10 C1086.92 576.38 1090.35 581.25 1093.00 586.90 C1095.65 592.55 1097.17 599.33 1099.80 605.00 C1102.43 610.67 1105.78 615.23 1108.80 620.90 C1111.82 626.57 1114.88 633.35 1117.90 639.00 C1120.92 644.65 1123.52 649.90 1126.90 654.80 C1130.28 659.70 1134.43 663.88 1138.20 668.40 C1141.97 672.92 1145.35 677.00 1149.50 681.90 C1153.65 686.80 1158.65 692.20 1163.10 697.80 C1167.55 703.40 1172.57 710.83 1176.20 715.50 C1179.83 720.17 1181.93 722.27 1184.90 725.80 C1187.87 729.33 1191.25 733.65 1194.00 736.70 C1196.75 739.75 1198.35 741.95 1201.40 744.10 C1204.45 746.25 1209.25 747.78 1212.30 749.60 C1215.35 751.42 1217.25 752.57 1219.70 755.00 C1222.15 757.43 1224.57 760.83 1227.00 764.20 C1229.43 767.57 1231.55 772.15 1234.30 775.20 C1237.05 778.25 1240.45 780.37 1243.50 782.50 C1246.55 784.63 1249.87 785.55 1252.60 788.00 C1255.33 790.45 1257.15 793.85 1259.90 797.20 C1262.65 800.55 1266.05 805.05 1269.10 808.10 C1272.15 811.15 1275.15 813.05 1278.20 815.50 C1281.25 817.95 1283.77 820.67 1287.40 822.80 C1291.03 824.93 1296.92 827.02 1300.00 828.30 C1303.08 829.58 1302.77 829.48 1305.90 830.50 C1309.03 831.52 1314.48 833.32 1318.80 834.40 C1323.12 835.48 1325.32 836.25 1331.80 837.00 C1338.28 837.75 1346.92 838.47 1357.70 838.90 C1368.48 839.33 1383.55 839.60 1396.50 839.60 C1409.45 839.60 1421.05 839.02 1435.40 838.90 C1449.75 838.78 1474.73 838.90 1482.60 838.90" fill="none" stroke="#45e8e8" stroke-width="2.80" stroke-linejoin="round" stroke-linecap="round" opacity="1.00"/>
<path d="M1004.50 719.00 C1005.12 715.57 1006.90 705.55 1008.20 698.40 C1009.50 691.25 1010.97 684.37 1012.30 676.10 C1013.63 667.83 1014.88 658.30 1016.20 648.80 C1017.52 639.30 1018.90 627.78 1020.20 619.10 C1021.50 610.42 1022.73 603.73 1024.00 596.70 C1025.27 589.67 1026.53 583.92 1027.80 576.90 C1029.07 569.88 1030.35 561.22 1031.60 554.60 C1032.85 547.98 1033.68 542.17 1035.30 537.20 C1036.92 532.23 1039.28 527.63 1041.30 524.80 C1043.32 521.97 1045.37 520.40 1047.40 520.20 C1049.43 520.00 1051.48 521.47 1053.50 523.60 C1055.52 525.73 1057.30 527.97 1059.50 533.00 C1061.70 538.03 1064.42 546.75 1066.70 553.80 C1068.98 560.85 1071.05 567.40 1073.20 575.30 C1075.35 583.20 1077.45 592.23 1079.60 601.20 C1081.75 610.17 1083.93 619.07 1086.10 629.10 C1088.27 639.13 1090.48 649.25 1092.60 661.40 C1094.72 673.55 1097.00 691.58 1098.80 702.00 C1100.60 712.42 1101.87 716.88 1103.40 723.90 C1104.93 730.92 1106.32 737.68 1108.00 744.10 C1109.68 750.52 1111.67 756.92 1113.50 762.40 C1115.33 767.88 1116.87 772.43 1119.00 777.00 C1121.13 781.57 1123.55 786.43 1126.30 789.80 C1129.05 793.17 1132.15 795.22 1135.50 797.20 C1138.85 799.18 1143.05 800.95 1146.40 801.70 C1149.75 802.45 1152.55 802.45 1155.60 801.70 C1158.65 800.95 1161.65 798.27 1164.70 797.20 C1167.75 796.13 1171.15 795.30 1173.90 795.30 C1176.65 795.30 1178.77 796.28 1181.20 797.20 C1183.63 798.12 1186.05 800.80 1188.50 800.80 C1190.95 800.80 1193.75 798.12 1195.90 797.20 C1198.05 796.28 1199.27 795.00 1201.40 795.30 C1203.53 795.60 1205.97 797.47 1208.70 799.00 C1211.43 800.53 1214.75 802.37 1217.80 804.50 C1220.85 806.63 1224.25 809.97 1227.00 811.80 C1229.75 813.63 1231.55 814.73 1234.30 815.50 C1237.05 816.27 1240.45 816.25 1243.50 816.40 C1246.55 816.55 1249.55 815.63 1252.60 816.40 C1255.65 817.17 1259.05 819.93 1261.80 821.00 C1264.55 822.07 1266.37 822.20 1269.10 822.80 C1271.83 823.40 1275.45 823.68 1278.20 824.60 C1280.95 825.52 1283.15 827.53 1285.60 828.30 C1288.05 829.07 1289.52 828.18 1292.90 829.20 C1296.28 830.22 1302.00 832.67 1305.90 834.40 C1309.80 836.13 1313.28 838.10 1316.30 839.60 C1319.32 841.10 1322.72 842.77 1324.00 843.40" fill="none" stroke="#5b4fe0" stroke-width="2.80" stroke-linejoin="round" stroke-linecap="round" opacity="1.00"/>
<path d="M1409.50 840.50 C1412.52 840.57 1423.72 841.48 1427.60 840.90 C1431.48 840.32 1428.27 837.87 1432.80 837.00 C1437.33 836.13 1448.97 836.03 1454.80 835.70 C1460.63 835.37 1463.17 835.12 1467.80 835.00 C1472.43 834.88 1480.13 835.00 1482.60 835.00" fill="none" stroke="#4a60d8" stroke-width="2.60" stroke-linejoin="round" stroke-linecap="round" opacity="1.00"/>
<text transform="translate(41.57 367.10) scale(1.0895 1)" font-family='"Liberation Sans", Arial, sans-serif' font-size="14.83" fill="#5c5c5c" stroke="#5c5c5c" stroke-width="0.8">0,0</text>
<text transform="translate(41.56 301.00) scale(1.0989 1)" font-family='"Liberation Sans", Arial, sans-serif' font-size="14.83" fill="#5c5c5c" stroke="#5c5c5c" stroke-width="0.8">0,2</text>
<text transform="translate(41.57 234.90) scale(1.0815 1)" font-family='"Liberation Sans", Arial, sans-serif' font-size="14.83" fill="#5c5c5c" stroke="#5c5c5c" stroke-width="0.8">0,4</text>
<text transform="translate(41.57 168.80) scale(1.0936 1)" font-family='"Liberation Sans", Arial, sans-serif' font-size="14.83" fill="#5c5c5c" stroke="#5c5c5c" stroke-width="0.8">0,6</text>
<text transform="translate(41.57 102.70) scale(1.0932 1)" font-family='"Liberation Sans", Arial, sans-serif' font-size="14.83" fill="#5c5c5c" stroke="#5c5c5c" stroke-width="0.8">0,8</text>
<text transform="translate(40.93 36.60) scale(1.1213 1)" font-family='"Liberation Sans", Arial, sans-serif' font-size="14.83" fill="#5c5c5c" stroke="#5c5c5c" stroke-width="0.8">1,0</text>
<text transform="translate(575.52 359.64) scale(1.1185 1)" font-family='"Liberation Sans", Arial, sans-serif' font-size="15.54" fill="#5c5c5c" stroke="#5c5c5c" stroke-width="0.8">0,0</text>
<text transform="translate(575.52 298.94) scale(1.1282 1)" font-family='"Liberation Sans", Arial, sans-serif' font-size="15.54" fill="#5c5c5c" stroke="#5c5c5c" stroke-width="0.8">0,2</text>
<text transform="translate(575.53 238.24) scale(1.1102 1)" font-family='"Liberation Sans", Arial, sans-serif' font-size="15.54" fill="#5c5c5c" stroke="#5c5c5c" stroke-width="0.8">0,4</text>
<text transform="translate(575.52 177.54) scale(1.1227 1)" font-family='"Liberation Sans", Arial, sans-serif' font-size="15.54" fill="#5c5c5c" stroke="#5c5c5c" stroke-width="0.8">0,6</text>
<text transform="translate(575.52 116.84) scale(1.1223 1)" font-family='"Liberation Sans", Arial, sans-serif' font-size="15.54" fill="#5c5c5c" stroke="#5c5c5c" stroke-width="0.8">0,8</text>
<text transform="translate(574.84 56.14) scale(1.1511 1)" font-family='"Liberation Sans", Arial, sans-serif' font-size="15.54" fill="#5c5c5c" stroke="#5c5c5c" stroke-width="0.8">1,0</text>
<text transform="translate(1143.35 378.39) scale(1.0289 1)" font-family='"Liberation Sans", Arial, sans-serif' font-size="21.19" fill="#5c5c5c" stroke="#5c5c5c" stroke-width="0.8">0,0</text>
<text transform="translate(1143.34 311.93) scale(1.0378 1)" font-family='"Liberation Sans", Arial, sans-serif' font-size="21.19" fill="#5c5c5c" stroke="#5c5c5c" stroke-width="0.8">0,2</text>
<text transform="translate(1143.35 245.47) scale(1.0213 1)" font-family='"Liberation Sans", Arial, sans-serif' font-size="21.19" fill="#5c5c5c" stroke="#5c5c5c" stroke-width="0.8">0,4</text>
<text transform="translate(1143.35 179.01) scale(1.0327 1)" font-family='"Liberation Sans", Arial, sans-serif' font-size="21.19" fill="#5c5c5c" stroke="#5c5c5c" stroke-width="0.8">0,6</text>
<text transform="translate(1143.35 112.55) scale(1.0324 1)" font-family='"Liberation Sans", Arial, sans-serif' font-size="21.19" fill="#5c5c5c" stroke="#5c5c5c" stroke-width="0.8">0,8</text>
<text transform="translate(1142.49 46.09) scale(1.0588 1)" font-family='"Liberation Sans", Arial, sans-serif' font-size="21.19" fill="#5c5c5c" stroke="#5c5c5c" stroke-width="0.8">1,0</text>
<text transform="translate(404.47 852.28) scale(0.9732 1)" font-family='"Liberation Sans", Arial, sans-serif' font-size="16.53" fill="#5c5c5c" stroke="#5c5c5c" stroke-width="0.8">0,0</text>
<text transform="translate(404.47 785.38) scale(0.9816 1)" font-family='"Liberation Sans", Arial, sans-serif' font-size="16.53" fill="#5c5c5c" stroke="#5c5c5c" stroke-width="0.8">0,2</text>
<text transform="translate(404.48 718.48) scale(0.9660 1)" font-family='"Liberation Sans", Arial, sans-serif' font-size="16.53" fill="#5c5c5c" stroke="#5c5c5c" stroke-width="0.8">0,4</text>
<text transform="translate(404.47 651.58) scale(0.9768 1)" font-family='"Liberation Sans", Arial, sans-serif' font-size="16.53" fill="#5c5c5c" stroke="#5c5c5c" stroke-width="0.8">0,6</text>
<text transform="translate(404.47 584.68) scale(0.9764 1)" font-family='"Liberation Sans", Arial, sans-serif' font-size="16.53" fill="#5c5c5c" stroke="#5c5c5c" stroke-width="0.8">0,8</text>
<text transform="translate(403.84 517.78) scale(1.0015 1)" font-family='"Liberation Sans", Arial, sans-serif' font-size="16.53" fill="#5c5c5c" stroke="#5c5c5c" stroke-width="0.8">1,0</text>
<text transform="translate(964.81 848.11) scale(1.0402 1)" font-family='"Liberation Sans", Arial, sans-serif' font-size="19.49" fill="#5c5c5c" stroke="#5c5c5c" stroke-width="0.8">0,0</text>
<text transform="translate(964.80 783.51) scale(1.0491 1)" font-family='"Liberation Sans", Arial, sans-serif' font-size="19.49" fill="#5c5c5c" stroke="#5c5c5c" stroke-width="0.8">0,2</text>
<text transform="translate(964.81 718.91) scale(1.0325 1)" font-family='"Liberation Sans", Arial, sans-serif' font-size="19.49" fill="#5c5c5c" stroke="#5c5c5c" stroke-width="0.8">0,4</text>
<text transform="translate(964.81 654.31) scale(1.0440 1)" font-family='"Liberation Sans", Arial, sans-serif' font-size="19.49" fill="#5c5c5c" stroke="#5c5c5c" stroke-width="0.8">0,6</text>
<text transform="translate(964.81 589.71) scale(1.0437 1)" font-family='"Liberation Sans", Arial, sans-serif' font-size="19.49" fill="#5c5c5c" stroke="#5c5c5c" stroke-width="0.8">0,8</text>
<text transform="translate(964.01 525.11) scale(1.0704 1)" font-family='"Liberation Sans", Arial, sans-serif' font-size="19.49" fill="#5c5c5c" stroke="#5c5c5c" stroke-width="0.8">1,0</text>
<text transform="translate(31.11 281.77) rotate(-90) scale(1.1225 1)" font-family='"Liberation Sans", Arial, sans-serif' font-weight="normal" font-size="29.82" fill="#1e1e1e" stroke="#1e1e1e" stroke-width="0.75">Absorbance</text>
<text transform="translate(563.20 275.16) rotate(-90) scale(1.0464 1)" font-family='"Liberation Sans", Arial, sans-serif' font-weight="normal" font-size="30.37" fill="#1e1e1e" stroke="#1e1e1e" stroke-width="0.75">Absorbance</text>
<text transform="translate(1124.64 255.56) rotate(-90) scale(1.2336 1)" font-family='"Liberation Sans", Arial, sans-serif' font-weight="normal" font-size="26.55" fill="#1e1e1e" stroke="#1e1e1e" stroke-width="0.75">Absorbance</text>
<text transform="translate(393.21 758.36) rotate(-90) scale(1.0767 1)" font-family='"Liberation Sans", Arial, sans-serif' font-weight="normal" font-size="29.69" fill="#1e1e1e" stroke="#1e1e1e" stroke-width="0.75">Absorbance</text>
<text transform="translate(947.71 740.16) rotate(-90) scale(1.0705 1)" font-family='"Liberation Sans", Arial, sans-serif' font-weight="normal" font-size="29.82" fill="#1e1e1e" stroke="#1e1e1e" stroke-width="0.75">Absorbance</text>
<text transform="translate(89.17 403.13) scale(0.9931 1)" font-family='"Liberation Serif", serif' font-weight="bold" font-size="33.05" fill="#000">240</text>
<text transform="translate(170.07 403.13) scale(0.9931 1)" font-family='"Liberation Serif", serif' font-weight="bold" font-size="33.05" fill="#000">260</text>
<text transform="translate(251.07 403.13) scale(0.9910 1)" font-family='"Liberation Serif", serif' font-weight="bold" font-size="33.05" fill="#000">280</text>
<text transform="translate(331.50 403.13) scale(1.0049 1)" font-family='"Liberation Serif", serif' font-weight="bold" font-size="33.05" fill="#000">300</text>
<text transform="translate(412.42 403.13) scale(0.9900 1)" font-family='"Liberation Serif", serif' font-weight="bold" font-size="33.05" fill="#000">320</text>
<text transform="translate(493.40 403.13) scale(1.0049 1)" font-family='"Liberation Serif", serif' font-weight="bold" font-size="33.05" fill="#000">340</text>
<text transform="translate(629.17 394.63) scale(0.9931 1)" font-family='"Liberation Serif", serif' font-weight="bold" font-size="33.05" fill="#000">240</text>
<text transform="translate(710.07 394.63) scale(0.9931 1)" font-family='"Liberation Serif", serif' font-weight="bold" font-size="33.05" fill="#000">260</text>
<text transform="translate(791.07 394.63) scale(0.9910 1)" font-family='"Liberation Serif", serif' font-weight="bold" font-size="33.05" fill="#000">280</text>
<text transform="translate(871.50 394.63) scale(1.0049 1)" font-family='"Liberation Serif", serif' font-weight="bold" font-size="33.05" fill="#000">300</text>
<text transform="translate(952.42 394.63) scale(0.9900 1)" font-family='"Liberation Serif", serif' font-weight="bold" font-size="33.05" fill="#000">320</text>
<text transform="translate(1033.42 394.63) scale(0.9900 1)" font-family='"Liberation Serif", serif' font-weight="bold" font-size="33.05" fill="#000">340</text>
<text transform="translate(1210.70 416.03) scale(0.9761 1)" font-family='"Liberation Serif", serif' font-weight="bold" font-size="33.05" fill="#000">240</text>
<text transform="translate(1297.45 416.03) scale(1.0080 1)" font-family='"Liberation Serif", serif' font-weight="bold" font-size="33.05" fill="#000">260</text>
<text transform="translate(1387.97 416.03) scale(0.9931 1)" font-family='"Liberation Serif", serif' font-weight="bold" font-size="33.05" fill="#000">280</text>
<text transform="translate(1478.22 416.03) scale(0.9900 1)" font-family='"Liberation Serif", serif' font-weight="bold" font-size="33.05" fill="#000">300</text>
<text transform="translate(1564.20 416.03) scale(1.0070 1)" font-family='"Liberation Serif", serif' font-weight="bold" font-size="33.05" fill="#000">320</text>
<text transform="translate(1645.20 416.03) scale(1.0049 1)" font-family='"Liberation Serif", serif' font-weight="bold" font-size="33.05" fill="#000">340</text>
<text transform="translate(435.54 886.65) scale(1.0145 1)" font-family='"Liberation Serif", serif' font-weight="bold" font-size="30.82" fill="#000">220</text>
<text transform="translate(504.72 886.65) scale(1.0304 1)" font-family='"Liberation Serif", serif' font-weight="bold" font-size="30.82" fill="#000">240</text>
<text transform="translate(574.64 886.65) scale(1.0145 1)" font-family='"Liberation Serif", serif' font-weight="bold" font-size="30.82" fill="#000">260</text>
<text transform="translate(644.53 886.65) scale(1.0167 1)" font-family='"Liberation Serif", serif' font-weight="bold" font-size="30.82" fill="#000">280</text>
<text transform="translate(713.96 886.65) scale(1.0273 1)" font-family='"Liberation Serif", serif' font-weight="bold" font-size="30.82" fill="#000">300</text>
<text transform="translate(783.88 886.65) scale(1.0113 1)" font-family='"Liberation Serif", serif' font-weight="bold" font-size="30.82" fill="#000">320</text>
<text transform="translate(853.78 886.65) scale(1.0090 1)" font-family='"Liberation Serif", serif' font-weight="bold" font-size="30.82" fill="#000">340</text>
<text transform="translate(1037.67 886.92) scale(0.9629 1)" font-family='"Liberation Serif", serif' font-weight="bold" font-size="34.08" fill="#000">240</text>
<text transform="translate(1140.69 884.72) scale(0.9484 1)" font-family='"Liberation Serif", serif' font-weight="bold" font-size="34.08" fill="#000">260</text>
<text transform="translate(1249.59 884.22) scale(0.9588 1)" font-family='"Liberation Serif", serif' font-weight="bold" font-size="33.79" fill="#000">280</text>
<text transform="translate(1361.02 881.23) scale(0.9900 1)" font-family='"Liberation Serif", serif' font-weight="bold" font-size="33.05" fill="#000">300</text>
<text transform="translate(1455.10 880.52) scale(0.9722 1)" font-family='"Liberation Serif", serif' font-weight="bold" font-size="34.23" fill="#000">320</text>
<text transform="translate(276.33 440.01) scale(1.0115 1)" font-family='"Liberation Serif", serif' font-weight="bold" font-size="31.11" fill="#000">λ, nm</text>
<text transform="translate(816.63 431.51) scale(1.0069 1)" font-family='"Liberation Serif", serif' font-weight="bold" font-size="31.25" fill="#000">λ, nm</text>
<text transform="translate(1413.33 453.01) scale(1.0263 1)" font-family='"Liberation Serif", serif' font-weight="bold" font-size="30.83" fill="#000">λ, nm</text>
<text transform="translate(650.43 919.41) scale(1.0255 1)" font-family='"Liberation Serif", serif' font-weight="bold" font-size="30.69" fill="#000">λ, nm</text>
<text transform="translate(1270.73 915.61) scale(1.0351 1)" font-family='"Liberation Serif", serif' font-weight="bold" font-size="30.40" fill="#000">λ, nm</text>
<text transform="translate(232.63 69.41) scale(0.8888 1)" font-family='"Liberation Sans", Arial, sans-serif' font-weight="bold" font-size="29.75" fill="#111">a</text>
<text transform="translate(294.28 204.74) scale(1.0986 1)" font-family='"Liberation Sans", Arial, sans-serif' font-weight="bold" font-size="26.55" fill="#111">b</text>
<text transform="translate(236.87 293.03) scale(1.0487 1)" font-family='"Liberation Sans", Arial, sans-serif' font-weight="bold" font-size="27.56" fill="#111">c</text>
<text transform="translate(704.22 121.83) scale(1.0359 1)" font-family='"Liberation Sans", Arial, sans-serif' font-weight="bold" font-size="27.78" fill="#111">d</text>
<text transform="translate(721.42 232.22) scale(1.0686 1)" font-family='"Liberation Sans", Arial, sans-serif' font-weight="bold" font-size="28.29" fill="#111">e</text>
<text transform="translate(1368.39 92.60) scale(0.8855 1)" font-family='"Liberation Sans", Arial, sans-serif' font-weight="bold" font-size="33.40" fill="#111">f</text>
<text transform="translate(1360.17 227.43) scale(1.1313 1)" font-family='"Liberation Sans", Arial, sans-serif' font-weight="bold" font-size="28.65" fill="#111">g</text>
<text transform="translate(453.45 566.70) scale(1.0222 1)" font-family='"Liberation Sans", Arial, sans-serif' font-weight="bold" font-size="38.50" fill="#111">i</text>
<text transform="translate(442.03 686.90) scale(1.0530 1)" font-family='"Liberation Sans", Arial, sans-serif' font-weight="bold" font-size="39.06" fill="#111">h</text>
<text transform="translate(1126.96 653.40) scale(0.9737 1)" font-family='"Liberation Sans", Arial, sans-serif' font-weight="bold" font-size="38.78" fill="#111">k</text>
<text transform="translate(1123.61 745.87) scale(0.8788 1)" font-family='"Liberation Sans", Arial, sans-serif' font-weight="bold" font-size="37.23" fill="#111">j</text>
</g>
</svg>
</body></html>
